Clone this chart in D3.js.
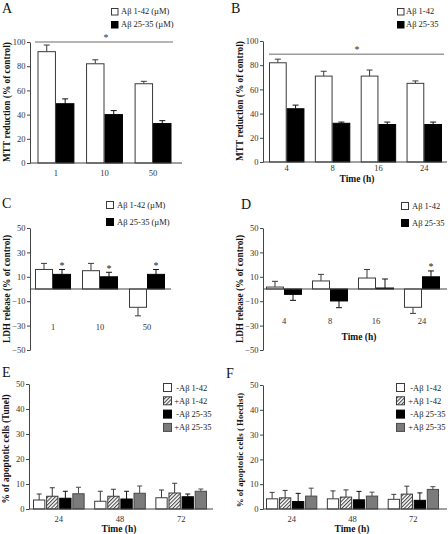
<!DOCTYPE html>
<html><head><meta charset="utf-8">
<script src="https://cdn.jsdelivr.net/npm/d3@7"></script>
<style>body{margin:0;background:#fff}svg text{font-family:"Liberation Serif","Times New Roman",serif}</style>
</head><body><svg id="c" width="448" height="534"></svg>
<script>
// ---------- data ----------
const doseCats = ["1", "10", "50"];
const timeCatsMTT = ["4", "8", "16", "24"];
const timeCatsApo = ["24", "48", "72"];
const yTicksMTT = [0, 20, 40, 60, 80, 100];
const yTicksLDH = [-50, -30, -10, 10, 30, 50];
const yTicksApo = [0, 10, 20, 30, 40, 50];

// A: MTT vs dose
const mttDose142 = [92, 82, 65.5];
const mttDose142Err = [5.5, 3.3, 2];
const mttDose2535 = [49, 40, 32.6];
const mttDose2535Err = [4, 3.3, 2.4];
const mttDoseSigLevel = 100;
// B: MTT vs time
const mttTime142 = [82, 71, 71, 65];
const mttTime142Err = [3, 4, 5, 2];
const mttTime2535 = [44, 32, 31, 31];
const mttTime2535Err = [3, 1, 2, 2];
const mttTimeSigLevel = 89;
// C: LDH vs dose
const ldhDose142 = [16, 15, -15];
const ldhDose142Err = [5, 6, 7];
const ldhDose2535 = [12, 10, 12];
const ldhDose2535Err = [4, 3.7, 4];
const ldhDose2535Star = [true, true, true];
// D: LDH vs time
const ldhTime142 = [1.6, 6.6, 9, -15];
const ldhTime142Err = [4.7, 5.4, 7, 5];
const ldhTime2535 = [-4.4, -9.8, 0.8, 10];
const ldhTime2535Err = [4.9, 5.5, 7.4, 4.8];
const ldhTime2535Star = [false, false, false, true];
// E: Tunel
const tunelMinus142 = [3.6, 3.1, 4.5];
const tunelMinus142Err = [2.4, 4, 3.1];
const tunelPlus142 = [5.1, 5.1, 6.4];
const tunelPlus142Err = [3.4, 2.8, 3.9];
const tunelMinus2535 = [4.3, 4.0, 4.9];
const tunelMinus2535Err = [2.8, 3.1, 1.1];
const tunelPlus2535 = [6.1, 6.3, 7.1];
const tunelPlus2535Err = [2.6, 2.9, 0.9];
// F: Hoechst
const hoechstMinus142 = [4.1, 4.1, 3.9];
const hoechstMinus142Err = [2.6, 3.2, 2.0];
const hoechstPlus142 = [4.5, 4.8, 6.0];
const hoechstPlus142Err = [3.0, 2.9, 3.2];
const hoechstMinus2535 = [3.0, 3.7, 3.5];
const hoechstMinus2535Err = [3.3, 3.4, 3.0];
const hoechstPlus2535 = [5.2, 5.2, 7.9];
const hoechstPlus2535Err = [3.2, 1.6, 1.1];

// ---------- drawing ----------
const svg = d3.select("#c");
const FONT = "'Liberation Serif','Times New Roman',serif";
const defs = svg.append("defs");
const pat = defs.append("pattern").attr("id", "hatch").attr("patternUnits", "userSpaceOnUse")
  .attr("width", 2.6).attr("height", 2.6).attr("patternTransform", "rotate(45)");
pat.append("rect").attr("width", 2.6).attr("height", 2.6).attr("fill", "#fff");
pat.append("line").attr("x1", 0.5).attr("y1", 0).attr("x2", 0.5).attr("y2", 2.6)
  .attr("stroke", "#444").attr("stroke-width", 1.1);

const styles = {
  white: {fill: "#fff", stroke: "#3a3a3a", err: "#3a3a3a"},
  black: {fill: "#000", stroke: "#000", err: "#111"},
  hatch: {fill: "url(#hatch)", stroke: "#3a3a3a", err: "#3a3a3a"},
  gray: {fill: "#7b7b7b", stroke: "#4a4a4a", err: "#4a4a4a"}
};

function panel(L, cats, series, yTicks) {
  const g = svg.append("g");
  const y = d3.scaleLinear().domain(L.yDomain).range(L.yRange);
  const x0 = d3.scaleBand().domain(cats).range(L.xRange).paddingInner(L.padInner);
  const x1 = d3.scaleBand().domain(d3.range(series.length)).range([0, x0.bandwidth()]).paddingInner(L.padBar || 0);

  // y axis
  const ya = g.append("g").attr("transform", `translate(${L.axisX},0)`)
    .call(d3.axisLeft(y).tickValues(yTicks).tickSize(3).tickSizeOuter(0).tickPadding(1.5));
  ya.attr("font-family", FONT);
  ya.selectAll("path,line").attr("stroke", "#444");
  ya.selectAll("text").attr("font-size", 8.5).attr("fill", "#333");

  // bars
  series.forEach((s, i) => {
    const st = styles[s.style];
    const bg = g.append("g");
    const rows = s.vals.map((v, j) => ({v, e: s.errs[j], j, star: s.stars ? s.stars[j] : false}));
    const bx = (r) => x0(cats[r.j]) + x1(i);
    const cx = (r) => bx(r) + x1.bandwidth() / 2;
    const tip = (r) => y(r.v + Math.sign(r.v || 1) * r.e);
    bg.selectAll("line.err").data(rows).join("line").attr("class", "err")
      .attr("x1", cx).attr("x2", cx).attr("y1", r => y(r.v)).attr("y2", tip)
      .attr("stroke", st.err).attr("stroke-width", 1);
    bg.selectAll("line.cap").data(rows).join("line").attr("class", "cap")
      .attr("x1", r => cx(r) - L.cap / 2).attr("x2", r => cx(r) + L.cap / 2)
      .attr("y1", tip).attr("y2", tip)
      .attr("stroke", st.err).attr("stroke-width", 1);
    bg.selectAll("rect").data(rows).join("rect")
      .attr("x", r => bx(r) + 0.5).attr("width", x1.bandwidth() - 1)
      .attr("y", r => y(Math.max(0, r.v))).attr("height", r => Math.abs(y(r.v) - y(0)))
      .attr("fill", st.fill).attr("stroke", st.stroke).attr("stroke-width", 1);
    bg.selectAll("text.star").data(rows.filter(r => r.star)).join("text").attr("class", "star")
      .attr("x", cx).attr("y", r => tip(r) - 0.5)
      .attr("text-anchor", "middle").attr("font-size", 10).attr("fill", "#222").text("*");
  });

  // baseline (x axis)
  g.append("line").attr("x1", L.axisX).attr("x2", L.axisEnd).attr("y1", y(0)).attr("y2", y(0))
    .attr("stroke", "#444").attr("stroke-width", 1);

  // category labels
  const xa = g.append("g").attr("transform", `translate(0,${L.xLabelY})`)
    .call(d3.axisBottom(x0).tickSize(0).tickPadding(0));
  xa.select(".domain").remove();
  xa.attr("font-family", FONT);
  xa.selectAll("text").attr("font-size", 8.5).attr("fill", "#333").attr("dy", 0);

  // significance line
  if (L.sig !== undefined) {
    g.append("line").attr("x1", L.sigX[0]).attr("x2", L.sigX[1]).attr("y1", y(L.sig)).attr("y2", y(L.sig))
      .attr("stroke", "#9c9c9c").attr("stroke-width", 1.5);
    g.append("text").attr("x", L.sigStarX).attr("y", y(L.sig) - 1.5).attr("text-anchor", "middle")
      .attr("font-size", 10).attr("fill", "#333").text("*");
  }

  // y label
  g.append("text").attr("transform", `translate(${L.yLab[0]},${L.yLab[1]}) rotate(-90)`)
    .attr("text-anchor", "middle").attr("font-size", L.yLabSize || 9.3).attr("font-weight", "bold").attr("fill", "#111")
    .text(L.yTitle);
  if (L.xTitle) {
    g.append("text").attr("x", L.xTitle[0]).attr("y", L.xTitle[1]).attr("text-anchor", "middle")
      .attr("font-size", 9.5).attr("font-weight", "bold").attr("fill", "#111").text(L.xTitleText);
  }
  // panel letter
  g.append("text").attr("x", L.letter[0]).attr("y", L.letter[1]).attr("font-size", 14).attr("fill", "#111").text(L.letterText);

  // legend
  L.legend.forEach((it, k) => {
    const yy = L.legPos[1] + k * L.legStep;
    g.append("rect").attr("x", L.legPos[0] + 0.5).attr("y", yy + 0.5).attr("width", L.legBox).attr("height", L.legBox)
      .attr("fill", styles[it.style].fill).attr("stroke", styles[it.style].stroke);
    if (it.pre) {
      g.append("text").attr("x", L.legPos[0] + L.legTextDx).attr("y", yy + L.legBox - 0.5).attr("text-anchor", "end")
        .attr("font-size", 8.5).attr("fill", "#222").text(it.pre);
    }
    g.append("text").attr("x", L.legPos[0] + L.legTextDx).attr("y", yy + L.legBox - 0.5)
      .attr("font-size", 8.5).attr("fill", "#222").text(it.label);
  });
}

// A
panel({yDomain: [0, 100], yRange: [163, 42], xRange: [37.5, 171.5], padInner: 0.24, axisX: 30, axisEnd: 182,
  xLabelY: 176, cap: 6, sig: mttDoseSigLevel, sigX: [35, 173], sigStarX: 106,
  yLab: [10, 102], yTitle: "MTT reduction (% of control)", letter: [2, 13], letterText: "A",
  legend: [{style: "white", label: "Aβ 1-42 (µM)"}, {style: "black", label: "Aβ 25-35 (µM)"}],
  legPos: [111, 8], legStep: 13, legBox: 6.5, legTextDx: 10},
  doseCats, [{vals: mttDose142, errs: mttDose142Err, style: "white"}, {vals: mttDose2535, errs: mttDose2535Err, style: "black"}], yTicksMTT);

// B
panel({yDomain: [0, 100], yRange: [162, 41], xRange: [269, 442], padInner: 0.227, axisX: 263, axisEnd: 447,
  xLabelY: 171, cap: 6, sig: mttTimeSigLevel, sigX: [269, 444], sigStarX: 357,
  yLab: [243, 101], yTitle: "MTT reduction (% of control)", xTitle: [357, 182], xTitleText: "Time (h)",
  letter: [231, 13], letterText: "B",
  legend: [{style: "white", label: "Aβ 1-42"}, {style: "black", label: "Aβ 25-35"}],
  legPos: [397, 8], legStep: 13, legBox: 6.5, legTextDx: 9},
  timeCatsMTT, [{vals: mttTime142, errs: mttTime142Err, style: "white"}, {vals: mttTime2535, errs: mttTime2535Err, style: "black"}], yTicksMTT);

// C
panel({yDomain: [-50, 50], yRange: [350, 228], xRange: [35, 165], padInner: 0.234, axisX: 30, axisEnd: 171,
  xLabelY: 330, cap: 6,
  yLab: [10, 289], yTitle: "LDH release (% of control)", letter: [2, 208], letterText: "C",
  legend: [{style: "white", label: "Aβ 1-42 (µM)"}, {style: "black", label: "Aβ 25-35 (µM)"}],
  legPos: [106, 201], legStep: 17, legBox: 7, legTextDx: 11},
  doseCats, [{vals: ldhDose142, errs: ldhDose142Err, style: "white"}, {vals: ldhDose2535, errs: ldhDose2535Err, style: "black", stars: ldhDose2535Star}], yTicksLDH);

// D
panel({yDomain: [-50, 50], yRange: [350, 228], xRange: [266, 440], padInner: 0.217, axisX: 263, axisEnd: 447,
  xLabelY: 324, cap: 6,
  yLab: [243, 289], yTitle: "LDH release (% of control)", xTitle: [359, 340], xTitleText: "Time (h)",
  letter: [241, 209], letterText: "D",
  legend: [{style: "white", label: "Aβ 1-42"}, {style: "black", label: "Aβ 25-35"}],
  legPos: [401, 202], legStep: 17, legBox: 7, legTextDx: 11},
  timeCatsMTT, [{vals: ldhTime142, errs: ldhTime142Err, style: "white"}, {vals: ldhTime2535, errs: ldhTime2535Err, style: "black", stars: ldhTime2535Star}], yTicksLDH);

// E
panel({yDomain: [0, 50], yRange: [509, 384], xRange: [33, 207], padInner: 0.156, padBar: 0.06, axisX: 29, axisEnd: 213,
  xLabelY: 522, cap: 5,
  yLab: [9, 449], yTitle: "% of apoptotic cells (Tunel)", xTitle: [119, 532], xTitleText: "Time  (h)",
  letter: [2, 377], letterText: "E",
  legend: [{style: "white", pre: "-", label: "Aβ 1-42"}, {style: "hatch", pre: "+", label: "Aβ 1-42"},
           {style: "black", pre: "-", label: "Aβ 25-35"}, {style: "gray", pre: "+", label: "Aβ 25-35"}],
  legPos: [163, 383], legStep: 13.3, legBox: 8, legTextDx: 16},
  timeCatsApo, [{vals: tunelMinus142, errs: tunelMinus142Err, style: "white"}, {vals: tunelPlus142, errs: tunelPlus142Err, style: "hatch"},
    {vals: tunelMinus2535, errs: tunelMinus2535Err, style: "black"}, {vals: tunelPlus2535, errs: tunelPlus2535Err, style: "gray"}], yTicksApo);

// F
panel({yDomain: [0, 50], yRange: [509, 385], xRange: [266, 439], padInner: 0.157, padBar: 0.06, axisX: 263, axisEnd: 447,
  xLabelY: 522, cap: 5,
  yLab: [243, 450], yLabSize: 8.8, yTitle: "% of apoptotic cells ( Hoechst)", xTitle: [352, 532], xTitleText: "Time (h)",
  letter: [226, 378], letterText: "F",
  legend: [{style: "white", pre: "-", label: "Aβ 1-42"}, {style: "hatch", pre: "+", label: "Aβ 1-42"},
           {style: "black", pre: "-", label: "Aβ 25-35"}, {style: "gray", pre: "+", label: "Aβ 25-35"}],
  legPos: [396, 383], legStep: 13.3, legBox: 8, legTextDx: 17},
  timeCatsApo, [{vals: hoechstMinus142, errs: hoechstMinus142Err, style: "white"}, {vals: hoechstPlus142, errs: hoechstPlus142Err, style: "hatch"},
    {vals: hoechstMinus2535, errs: hoechstMinus2535Err, style: "black"}, {vals: hoechstPlus2535, errs: hoechstPlus2535Err, style: "gray"}], yTicksApo);
</script></body></html>
